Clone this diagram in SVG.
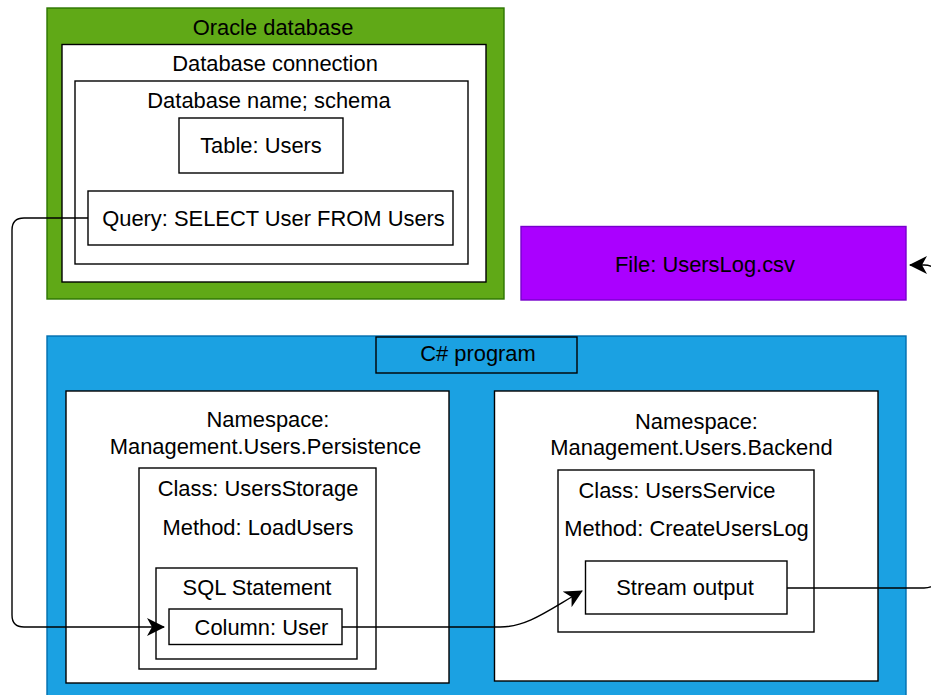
<svg xmlns="http://www.w3.org/2000/svg" width="931" height="695" viewBox="0 0 931 695">
<defs>
<style>
rect{stroke-width:1.4}
.w{fill:#ffffff;stroke:#000000}
.t{font-family:"Liberation Sans",Arial,Helvetica,sans-serif;font-size:21.9px;fill:#000000;text-anchor:middle}
.c{fill:none;stroke:#000000;stroke-width:1.4}
</style>
<marker id="arr" viewBox="0 0 18 18" markerWidth="18" markerHeight="18" refX="17" refY="9" orient="auto" markerUnits="userSpaceOnUse">
<path d="M0,0 L18,9 L0,18 L5,9 z" fill="#000000"/>
</marker>
</defs>
<rect width="931" height="695" fill="#ffffff"/>
<g id="oracle-database">
<rect x="47" y="8" width="457" height="291" fill="#60a917" stroke="#2d7600"/>
<text class="t" x="273" y="34.5">Oracle database</text>
</g>
<g id="database-connection">
<rect class="w" x="62" y="44.5" width="424" height="237.5"/>
<text class="t" x="275" y="71">Database connection</text>
</g>
<g id="database-name-schema">
<rect class="w" x="75" y="81" width="393" height="183"/>
<text class="t" x="269" y="108">Database name; schema</text>
</g>
<g id="table-users">
<rect class="w" x="179" y="118" width="164" height="55"/>
<text class="t" x="261" y="153">Table: Users</text>
</g>
<g id="query">
<rect class="w" x="88" y="191" width="365" height="54"/>
<text class="t" x="273.5" y="226">Query: SELECT User FROM Users</text>
</g>
<g id="file-userslog">
<rect x="521" y="226.5" width="385" height="73.5" fill="#aa00ff" stroke="#7700cc"/>
<text class="t" x="705" y="272">File: UsersLog.csv</text>
</g>
<g id="csharp-program">
<rect x="47" y="336" width="859" height="370" fill="#1ba1e2" stroke="#006eaf"/>
<rect x="376" y="337" width="201" height="36" fill="#1ba1e2" stroke="#000000"/>
<text class="t" x="478" y="361">C# program</text>
</g>
<g id="namespace-persistence">
<rect class="w" x="66" y="391" width="383" height="292"/>
<text class="t" x="268" y="427">Namespace:</text>
<text class="t" x="265.5" y="453.5">Management.Users.Persistence</text>
</g>
<g id="class-usersstorage">
<rect class="w" x="139" y="468" width="237" height="201"/>
<text class="t" x="258" y="496">Class: UsersStorage</text>
<text class="t" x="258" y="535">Method: LoadUsers</text>
</g>
<g id="sql-statement">
<rect class="w" x="156" y="568" width="201" height="91"/>
<text class="t" x="257" y="595">SQL Statement</text>
</g>
<g id="column-user">
<rect class="w" x="169" y="609" width="173" height="35.5"/>
<text class="t" x="261.5" y="635">Column: User</text>
</g>
<g id="namespace-backend">
<rect class="w" x="494.5" y="391" width="383.5" height="290"/>
<text class="t" x="696.5" y="428.5">Namespace:</text>
<text class="t" x="691.5" y="455">Management.Users.Backend</text>
</g>
<g id="class-usersservice">
<rect class="w" x="558" y="470" width="256" height="162"/>
<text class="t" x="677" y="498">Class: UsersService</text>
<text class="t" x="686.5" y="536">Method: CreateUsersLog</text>
</g>
<g id="stream-output">
<rect class="w" x="585.5" y="561" width="201.5" height="53"/>
<text class="t" x="685" y="595">Stream output</text>
</g>
<g id="connectors">
<path class="c" d="M88,218 L24,218 Q12,218 12,230 L12,615 Q12,627 24,627 L164,627" marker-end="url(#arr)"/>
<path class="c" d="M342,627 L500,627 C528,627 550,609 582,591" marker-end="url(#arr)"/>
<path class="c" d="M787,588 L924,588 Q938,588 938,574 L938,279 Q938,265 924,265 L910,265" marker-end="url(#arr)"/>
</g>
</svg>
